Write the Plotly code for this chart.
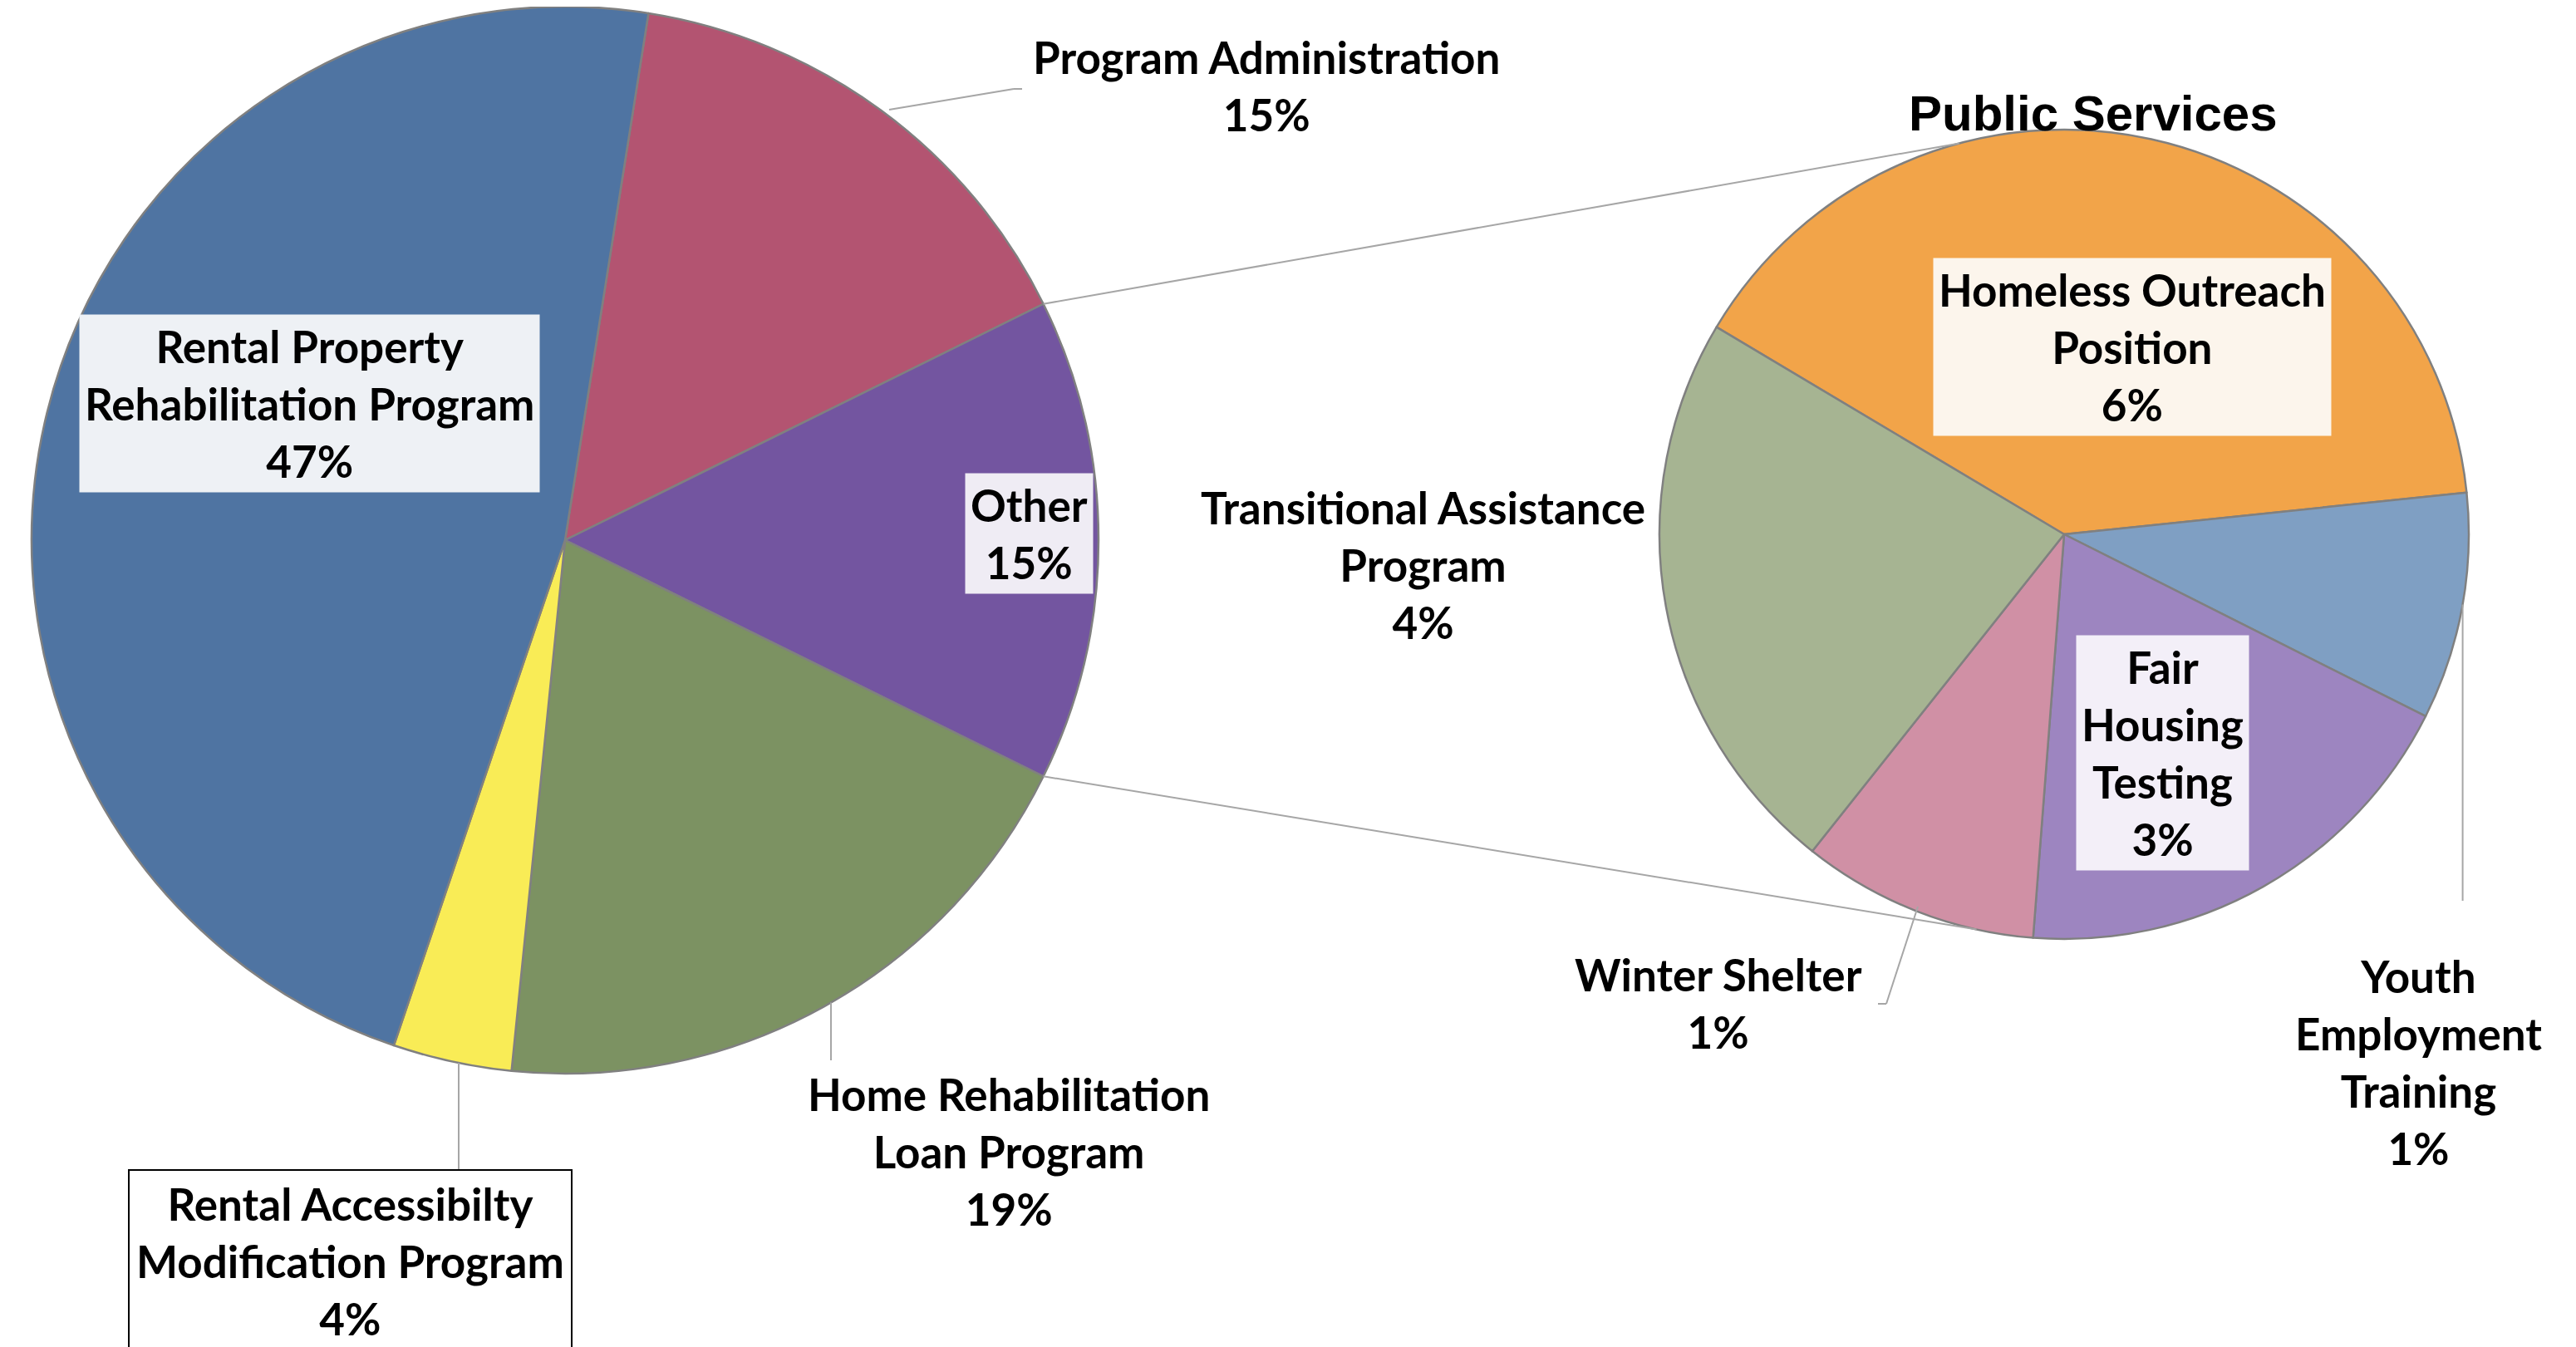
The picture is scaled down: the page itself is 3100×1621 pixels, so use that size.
import math
import plotly.graph_objects as go

# ---------------- data ----------------
main_labels = ["Program Administration", "Other", "Home Rehabilitation Loan Program",
               "Rental Accessibilty Modification Program", "Rental Property Rehabilitation Program"]
main_values = [15.2, 14.6, 19.3, 3.6, 47.3]
main_pct_text = ["15%", "15%", "19%", "4%", "47%"]
main_colors = ["#B35471", "#7355A0", "#7C9262", "#F9EC56", "#4F74A2"]

sub_labels = ["Homeless Outreach Position", "Youth Employment Training", "Fair Housing Testing",
              "Winter Shelter", "Transitional Assistance Program"]
sub_values = [5.97, 1.36, 2.82, 1.42, 3.43]
sub_pct_text = ["6%", "1%", "3%", "1%", "4%"]
sub_colors = ["#F2A449", "#7F9FC3", "#9D85C0", "#D090A5", "#A6B492"]

sub_title = "Public Services"

# ---------------- layout constants ----------------
W, H = 3100, 1621
FONT = "Lato, 'Open Sans', sans-serif"
FS = 53
DY = -9  # global vertical nudge for labels

L_CX, L_CY, L_R = 672, 642, 642
R_CX, R_CY, R_R = 2476, 635, 487
L_ROT = 9
R_ROT = -59.2


def dom(cx, cy, r):
    y0 = max(0.0, 1 - (cy + r) / H)
    y1 = min(1.0, 1 - (cy - r) / H)
    return dict(x=[max(0.0, (cx - r) / W), min(1.0, (cx + r) / W)], y=[y0, y1])


def px(x):
    return x / W


def py(y):
    return 1 - y / H


def edge(cx, cy, r, ang):
    a = math.radians(ang)
    return cx + r * math.sin(a), cy - r * math.cos(a)


fig = go.Figure()
fig.add_trace(go.Pie(
    labels=main_labels, values=main_values, sort=False, direction="clockwise",
    rotation=L_ROT, marker=dict(colors=main_colors, line=dict(color="#808080", width=2.5)),
    textinfo="none", hoverinfo="label+percent", domain=dom(L_CX, L_CY, L_R), showlegend=False,
))
fig.add_trace(go.Pie(
    labels=sub_labels, values=sub_values, sort=False, direction="clockwise",
    rotation=R_ROT, marker=dict(colors=sub_colors, line=dict(color="#808080", width=2.5)),
    textinfo="none", hoverinfo="label+value", domain=dom(R_CX, R_CY, R_R), showlegend=False,
))

# angles of the "Other" slice boundaries from the data
tot = sum(main_values)
a_other_start = L_ROT + 360 * main_values[0] / tot
a_other_end = a_other_start + 360 * main_values[1] / tot

shapes = []
grey = "#A6A6A6"


def seg(x0, y0, x1, y1, color=grey, w=2):
    shapes.append(dict(type="line", xref="paper", yref="paper", x0=px(x0), y0=py(y0),
                       x1=px(x1), y1=py(y1), line=dict(color=color, width=w), layer="above"))


# connector lines between the pies
x0, y0 = edge(L_CX, L_CY, L_R, a_other_start)
x1, y1 = edge(R_CX, R_CY, R_R, -15)
seg(x0, y0, x1, y1)
x0, y0 = edge(L_CX, L_CY, L_R, a_other_end)
x1, y1 = edge(R_CX, R_CY, R_R, 192.5)
seg(x0, y0, x1, y1)

# leader lines
seg(1062, 124, 1212, 99)
seg(1212, 99, 1222, 99)
hx = 992
seg(hx, L_CY + math.sqrt(L_R ** 2 - (hx - L_CX) ** 2), hx, 1268)
ax = 544
seg(ax, L_CY + math.sqrt(L_R ** 2 - (ax - L_CX) ** 2), ax, 1406)
seg(2300, 1083, 2262, 1200)
seg(2262, 1200, 2252, 1200)
yx, yy = edge(R_CX, R_CY, R_R, 100)
seg(yx, yy, yx, 1076)

annotations = []


def label(text, x, y, bg=None, border=None, pad=6):
    d = dict(text=text, x=px(x), y=py(y + DY), xref="paper", yref="paper", showarrow=False,
             xanchor="center", yanchor="middle", align="center",
             font=dict(family=FONT, size=FS, color="black", weight="bold"))
    if bg:
        d["bgcolor"] = bg
        d["borderpad"] = pad
    if border:
        d["bordercolor"] = border
        d["borderwidth"] = 2
    annotations.append(d)


label(f"{main_labels[0]}<br>{main_pct_text[0]}", 1516, 104)
label(f"Rental Property<br>Rehabilitation Program<br>{main_pct_text[4]}", 364, 486, bg="#EEF1F5")
label(f"{main_labels[1]}<br>{main_pct_text[1]}", 1230, 643, bg="#EFECF4")
label(f"Home Rehabilitation<br>Loan Program<br>{main_pct_text[2]}", 1206, 1386)
label(f"Rental Accessibilty<br>Modification Program<br>{main_pct_text[3]}", 413, 1518,
      bg="white", border="black", pad=8)
label(f"Transitional Assistance<br>Program<br>{sub_pct_text[4]}", 1704, 680)
label(f"Homeless Outreach<br>Position<br>{sub_pct_text[0]}", 2558, 418, bg="#FCF5EC")
label(f"Fair<br>Housing<br>Testing<br>{sub_pct_text[2]}", 2594, 907, bg="#F3EFF8")
label(f"{sub_labels[3]}<br>{sub_pct_text[3]}", 2060, 1208)
label(f"Youth<br>Employment<br>Training<br>{sub_pct_text[1]}", 2902, 1279)

annotations.append(dict(text=sub_title, x=px(2511), y=py(138 + DY), xref="paper", yref="paper",
                        showarrow=False, xanchor="center", yanchor="middle",
                        font=dict(family="'Liberation Sans', Arial, sans-serif", size=60,
                                  color="black", weight="bold")))

fig.update_layout(width=W, height=H, margin=dict(l=0, r=0, t=0, b=0),
                  paper_bgcolor="white", plot_bgcolor="white",
                  shapes=shapes, annotations=annotations)

fig.write_html("out.html")
